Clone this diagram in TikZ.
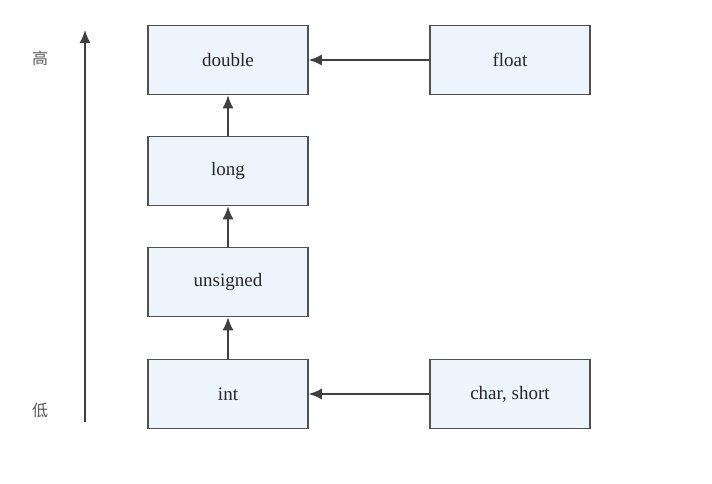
\documentclass[tikz,border=0pt]{standalone}
\usepackage{fontspec}
\setmainfont{Liberation Serif}
\newfontfamily\cjk{Noto Sans CJK SC}
\usetikzlibrary{positioning, arrows.meta}
\definecolor{boxfill}{HTML}{EEF4FC}
\definecolor{boxline}{HTML}{505050}
\begin{document}
\begin{tikzpicture}[
x=1pt,y=-1pt,
typebox/.style={draw=boxline,line width=1.6pt,fill=boxfill,minimum width=160pt,minimum height=69pt,inner sep=0pt,align=center,font=\fontsize{19}{22}\selectfont,text=black!85},
level/.style={font=\cjk\fontsize{16}{18}\selectfont,text=black!65},
conv/.style={-{Latex[length=13pt,width=11pt]},draw=black!75,line width=1.5pt}
]
\useasboundingbox (0,0) rectangle (712,483);
\node[typebox] (double) at (228,60) {double};
\node[typebox] (float) at (510,60) {float};
\node[typebox] (long) at (228,171) {long};
\node[typebox] (unsigned) at (228,282) {unsigned};
\node[typebox] (int) at (228,394) {int};
\node[typebox] (char) at (510,394) {char, short};
\node[level] (high) at (40,58) {高};
\node[level] (low) at (40,410) {低};
\coordinate (axisbot) at (85,422);
\coordinate (axistop) at (85,30);
\draw[conv] (float) -- (double);
\draw[conv] (char) -- (int);
\draw[conv] (int) -- (unsigned);
\draw[conv] (unsigned) -- (long);
\draw[conv] (long) -- (double);
\draw[conv] (axisbot) -- (axistop);
\end{tikzpicture}
\end{document}
